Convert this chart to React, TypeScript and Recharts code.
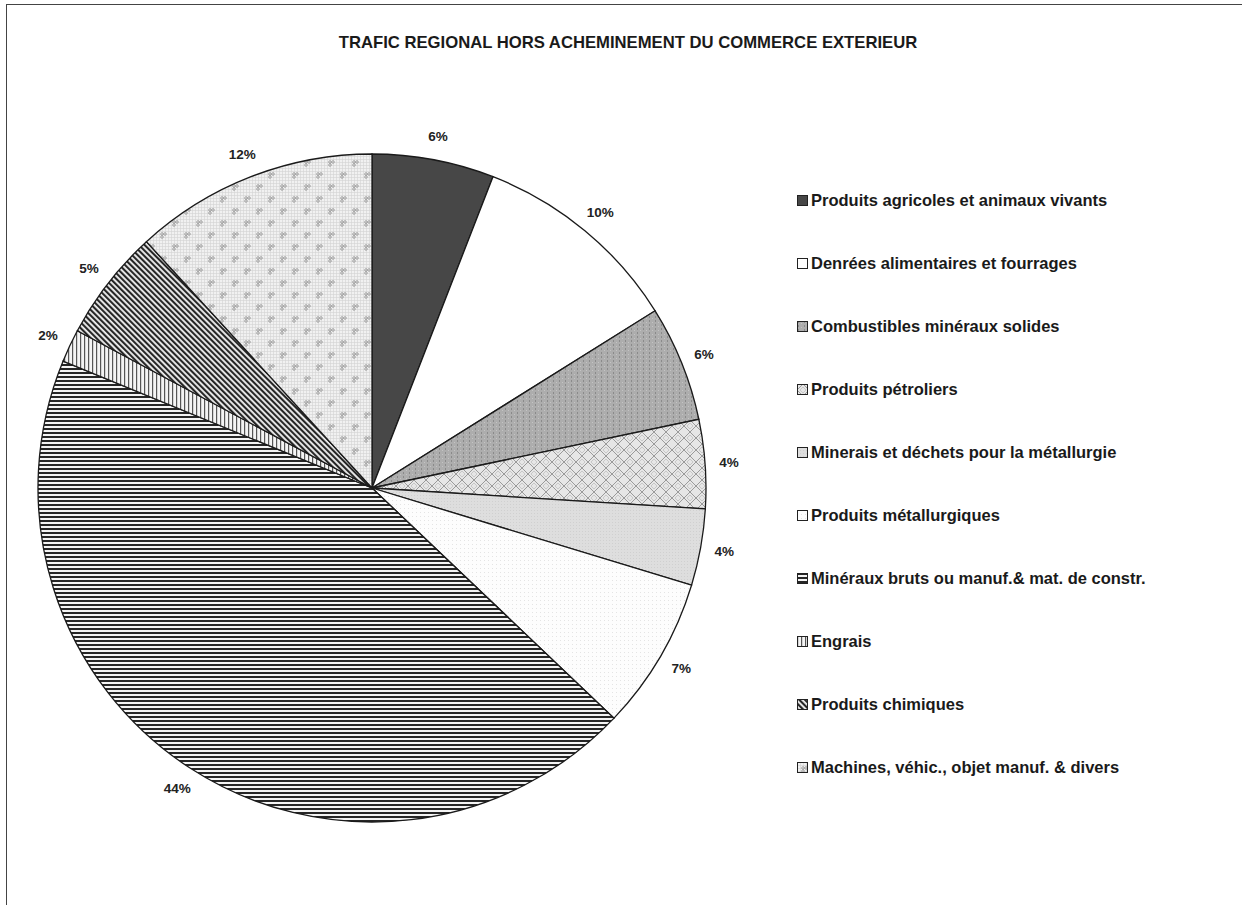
import { PieChart, Pie, Cell, Legend } from 'recharts';

const categories = [
  'Produits agricoles et animaux vivants',
  'Denrées alimentaires et fourrages',
  'Combustibles minéraux solides',
  'Produits pétroliers',
  'Minerais et déchets pour la métallurgie',
  'Produits métallurgiques',
  'Minéraux bruts ou manuf.& mat. de constr.',
  'Engrais',
  'Produits chimiques',
  'Machines, véhic., objet manuf. & divers',
];

const shares = [5.9, 10.2, 5.6, 4.3, 3.7, 7.4, 44.1, 1.6, 5.4, 11.8];

const data = categories.map((name, i) => ({ name, value: shares[i] }));

const fills = categories.map((_, i) => `url(#pat${i})`);

const RAD = Math.PI / 180;

const renderLabel = ({ cx, cy, midAngle, outerRadius, percent }: any) => {
  const r = outerRadius + 24;
  const x = cx + r * Math.cos(-midAngle * RAD);
  const y = cy + r * Math.sin(-midAngle * RAD);
  return (
    <text x={x} y={y} textAnchor="middle" dominantBaseline="central"
      fontFamily="Liberation Sans, Arial, sans-serif" fontSize={13.5} fontWeight="bold" fill="#222">
      {Math.round(percent * 100)}%
    </text>
  );
};

const LegendList = ({ payload }: any) => (
  <div style={{ fontFamily: 'Liberation Sans, Arial, sans-serif', fontSize: 16.5, fontWeight: 'bold', color: '#1a1a1a' }}>
    {(payload || []).map((entry: any, i: number) => (
      <div key={i} style={{ height: 63, display: 'flex', alignItems: 'center' }}>
        <svg width={12} height={12} style={{ marginRight: 2 }}>
          <rect x={0.5} y={0.5} width={10} height={10} fill={fills[i]} stroke="#222" strokeWidth={1} />
        </svg>
        <span>{categories[i]}</span>
      </div>
    ))}
  </div>
);

export default function App() {
  return (
    <div style={{ position: 'absolute', left: 0, top: 0, width: 1242, height: 905, background: '#fff', overflow: 'hidden' }}>
      <div style={{ position: 'absolute', left: 6, top: 4, width: 1242, height: 905, borderTop: '1.5px solid #444', borderLeft: '1px solid #444' }} />
      <div style={{ position: 'absolute', left: 0, top: 33, width: 1256, textAlign: 'center', fontFamily: 'Liberation Sans, Arial, sans-serif', fontSize: 17, fontWeight: 'bold', color: '#1a1a1a', transform: 'scaleX(0.98)' }}>
        TRAFIC REGIONAL HORS ACHEMINEMENT DU COMMERCE EXTERIEUR
      </div>
      <PieChart width={1242} height={905} margin={{ top: 0, right: 0, bottom: 0, left: 0 }}>
        <defs>
          <pattern id="pat0" width={4} height={4} patternUnits="userSpaceOnUse">
            <rect width={4} height={4} fill="#474747" />
          </pattern>
          <pattern id="pat1" width={4} height={4} patternUnits="userSpaceOnUse">
            <rect width={4} height={4} fill="#ffffff" />
          </pattern>
          <pattern id="pat2" width={6} height={4} patternUnits="userSpaceOnUse">
            <rect width={6} height={4} fill="#adadad" />
            <rect x={1} y={0} width={1} height={2} fill="#8a8a8a" />
            <rect x={4} y={2} width={1} height={1} fill="#c4c4c4" />
          </pattern>
          <pattern id="pat3" width={12} height={12} patternUnits="userSpaceOnUse">
            <rect width={12} height={12} fill="#e6e6e6" />
            <path d="M0 6 L6 0 M6 12 L12 6 M0 6 L6 12 M6 0 L12 6" stroke="#9a9a9a" strokeWidth={1} fill="none" />
            <path d="M3 6 L6 3 L9 6 L6 9 Z" stroke="#c0c0c0" strokeWidth={0.8} fill="none" />
          </pattern>
          <pattern id="pat4" width={3} height={3} patternUnits="userSpaceOnUse">
            <rect width={3} height={3} fill="#dedede" />
            <rect width={1} height={1} fill="#d0d0d0" />
          </pattern>
          <pattern id="pat5" width={4} height={4} patternUnits="userSpaceOnUse">
            <rect width={4} height={4} fill="#fdfdfd" />
            <rect width={1} height={1} fill="#e4e4e4" />
          </pattern>
          <pattern id="pat6" width={4} height={4} patternUnits="userSpaceOnUse">
            <rect width={4} height={4} fill="#f4f4f4" />
            <rect y={0} width={4} height={2} fill="#262626" />
          </pattern>
          <pattern id="pat7" width={4} height={4} patternUnits="userSpaceOnUse">
            <rect width={4} height={4} fill="#f4f4f4" />
            <rect x={0} width={1.2} height={4} fill="#555" />
          </pattern>
          <pattern id="pat8" width={4} height={4} patternUnits="userSpaceOnUse" patternTransform="rotate(-45)">
            <rect width={4} height={4} fill="#eeeeee" />
            <rect x={0} width={2.1} height={4} fill="#262626" />
          </pattern>
          <pattern id="pat9" width={24} height={24} patternUnits="userSpaceOnUse">
            <rect width={24} height={24} fill="#f1f1f1" />
            <path d="M0 0.5 H24 M0 3.5 H24 M0 6.5 H24 M0 9.5 H24 M0 12.5 H24 M0 15.5 H24 M0 18.5 H24 M0 21.5 H24 M0.5 0 V24 M3.5 0 V24 M6.5 0 V24 M9.5 0 V24 M12.5 0 V24 M15.5 0 V24 M18.5 0 V24 M21.5 0 V24"
              stroke="#d4d4d4" strokeWidth={0.6} fill="none" />
            <circle cx={6} cy={6} r={1.3} fill="none" stroke="#8a8a8a" strokeWidth={0.7} />
            <circle cx={9} cy={6} r={1.3} fill="none" stroke="#8a8a8a" strokeWidth={0.7} />
            <circle cx={6} cy={9} r={1.3} fill="none" stroke="#8a8a8a" strokeWidth={0.7} />
            <circle cx={18} cy={18} r={1.3} fill="none" stroke="#8a8a8a" strokeWidth={0.7} />
            <circle cx={21} cy={18} r={1.3} fill="none" stroke="#8a8a8a" strokeWidth={0.7} />
            <circle cx={18} cy={21} r={1.3} fill="none" stroke="#8a8a8a" strokeWidth={0.7} />
          </pattern>
        </defs>
        <Pie
          data={data}
          dataKey="value"
          nameKey="name"
          cx={372}
          cy={488}
          outerRadius={334}
          startAngle={90}
          endAngle={-270}
          stroke="#1a1a1a"
          strokeWidth={1.3}
          label={renderLabel}
          labelLine={false}
          isAnimationActive={false}
        >
          {data.map((_, i) => <Cell key={i} fill={fills[i]} />)}
        </Pie>
        <Legend
          layout="vertical"
          align="right"
          verticalAlign="top"
          content={<LegendList />}
          wrapperStyle={{ left: 797, top: 169, right: 'auto', width: 440 }}
        />
      </PieChart>
    </div>
  );
}
